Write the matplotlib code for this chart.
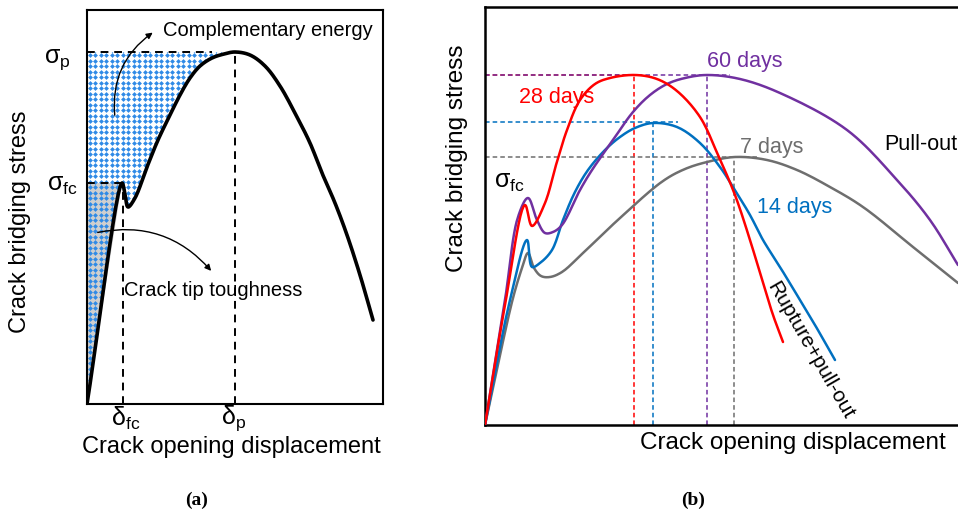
import numpy as np
import matplotlib.pyplot as plt
from matplotlib.patches import Polygon

plt.rcParams['font.family'] = ['Liberation Sans', 'DejaVu Sans']
plt.rcParams['mathtext.fontset'] = 'custom'
plt.rcParams['mathtext.rm'] = 'Liberation Sans'

# ---- panel (a): schematic bridging curve (units) ----
a_x = [0, 35, 38, 41, 48, 60, 71, 83, 93, 103, 113, 125, 137, 148, 163, 178,
       193, 210, 223, 235, 248, 260, 273, 286]
a_y = [0, 221, 210, 197, 206, 237, 264, 289, 309, 326, 338, 346, 350, 352, 349,
       338, 318, 287, 261, 231, 201, 169, 129, 84]
a_peak = 13          # index of sigma_p in the arrays
sig_fc, d_fc = 221, 36
sig_p, d_p = 352, 148

# ---- panel (b): curing ages ----
red_x = [0, 20, 40, 47, 60, 71, 82, 95, 110, 125, 150, 172, 192, 215, 233, 250,
         265, 278, 288, 298]
red_y = [0, 120, 220, 199, 222, 260, 295, 325, 341, 347, 350, 346, 334, 308, 270,
         230, 185, 142, 110, 83]
pur_x = [0, 20, 33, 43, 52, 60, 68, 77, 95, 107, 128, 148, 165, 182, 200, 222,
         255, 295, 362, 412, 445, 473]
pur_y = [0, 125, 208, 227, 205, 192, 193, 200, 235, 255, 285, 313, 330, 341, 347,
         350, 346, 332, 295, 245, 205, 160]
blu_x = [0, 25, 42, 47, 55, 67, 78, 90, 103, 120, 135, 150, 168, 192, 215, 235,
         248, 265, 278, 295, 315, 330, 350]
blu_y = [0, 125, 185, 158, 162, 175, 205, 233, 255, 275, 288, 297, 302, 298, 282,
         258, 238, 210, 185, 158, 125, 100, 65]
gry_x = [0, 15, 28, 37, 43, 49, 56, 65, 77, 98, 135, 178, 200, 222, 250, 282,
         312, 345, 378, 428, 473]
gry_y = [0, 70, 127, 157, 172, 157, 149, 148, 153, 172, 207, 244, 256, 263, 268,
         265, 255, 238, 218, 178, 142]

# peaks (x, y, end of horizontal guide)
peaks = {
    'red': (149, 350, 150),
    'purple': (222, 350, 245),
    'blue': (168, 303, 193),
    'gray': (249, 268, 275),
}
colors = {'red': '#ff0000', 'purple': '#7030a0', 'blue': '#0070c0', 'gray': '#6e6e6e'}

W, H = 958, 515
fig = plt.figure(figsize=(W / 100, H / 100), dpi=100)


def px(x, y):
    return x / W, 1 - y / H


def smooth(xs, ys, n=12):
    # centripetal catmull-rom through the read points, only for drawing
    p = np.column_stack([xs, ys]).astype(float)
    p = np.vstack([2 * p[0] - p[1], p, 2 * p[-1] - p[-2]])
    out = []
    for i in range(1, len(p) - 2):
        p0, p1, p2, p3 = p[i - 1], p[i], p[i + 1], p[i + 2]
        t0 = 0.0
        t1 = t0 + np.linalg.norm(p1 - p0) ** 0.5
        t2 = t1 + np.linalg.norm(p2 - p1) ** 0.5
        t3 = t2 + np.linalg.norm(p3 - p2) ** 0.5
        t = np.linspace(t1, t2, n, endpoint=False)[:, None]
        a1 = (t1 - t) / (t1 - t0) * p0 + (t - t0) / (t1 - t0) * p1
        a2 = (t2 - t) / (t2 - t1) * p1 + (t - t1) / (t2 - t1) * p2
        a3 = (t3 - t) / (t3 - t2) * p2 + (t - t2) / (t3 - t2) * p3
        b1 = (t2 - t) / (t2 - t0) * a1 + (t - t0) / (t2 - t0) * a2
        b2 = (t3 - t) / (t3 - t1) * a2 + (t - t1) / (t3 - t1) * a3
        out.append((t2 - t) / (t2 - t1) * b1 + (t - t1) / (t2 - t1) * b2)
    out.append(p[-2][None, :])
    c = np.vstack(out)
    return c[:, 0], c[:, 1]


# ================= (a) =================
axa = fig.add_axes([87 / W, (H - 404) / H, (383 - 87) / W, (404 - 10) / H])
axa.set_xlim(0, 296)
axa.set_ylim(0, 394)
axa.set_xticks([])
axa.set_yticks([])
for s in axa.spines.values():
    s.set_linewidth(1.5)

sx, sy = smooth(a_x, a_y)
ipk = np.argmax(sy)

tri_x = [0, a_x[1], 0]
tri_y = [0, a_y[1], a_y[1]]
axa.fill(tri_x, tri_y, facecolor='#cfcfcf', edgecolor='none', zorder=1)

region = Polygon(np.column_stack([np.r_[sx[:ipk + 1], 0], np.r_[sy[:ipk + 1], sig_p]]),
                 closed=True, facecolor='none', edgecolor='none')
axa.add_patch(region)
gx, gy = np.meshgrid(np.arange(2.5, 140, 5.5), np.arange(2.5, 360, 5.5))
dots = axa.scatter(gx.ravel(), gy.ravel(), s=6, marker='D', color='#2f8ae6',
                   linewidths=0, zorder=2)
dots.set_clip_path(region)

axa.plot(sx, sy, color='black', lw=2.6, solid_capstyle='round',
         solid_joinstyle='round', zorder=4)
dash = dict(color='black', lw=1.4, ls=(0, (4, 3)), zorder=3)
axa.plot([0, 125], [sig_p, sig_p], **dash)
axa.plot([d_p, d_p], [0, sig_p], **dash)
axa.plot([0, d_fc], [sig_fc, sig_fc], **dash)
axa.plot([d_fc, d_fc], [0, sig_fc], **dash)

axa.text(181, 374, 'Complementary energy', fontsize=14.5, ha='center', va='center')
axa.annotate('', xy=(68, 373), xytext=(28, 286),
             arrowprops=dict(arrowstyle='-|>', color='black', lw=1.0,
                             mutation_scale=9, connectionstyle='arc3,rad=-0.3'),
             zorder=5)
axa.text(126, 113, 'Crack tip toughness', fontsize=14.5, ha='center', va='center')
axa.annotate('', xy=(126, 131), xytext=(8, 171),
             arrowprops=dict(arrowstyle='-|>', color='black', lw=1.0,
                             mutation_scale=9, connectionstyle='arc3,rad=-0.3'),
             zorder=5)

axa.text(-16, 344, r'$\mathregular{\sigma_p}$', fontsize=18, ha='right', va='center',
         clip_on=False)
axa.text(-9, 219, r'$\mathregular{\sigma_{fc}}$', fontsize=18, ha='right', va='center',
         clip_on=False)
axa.text(d_fc + 3, -14, r'$\mathregular{\delta_{fc}}$', fontsize=18, ha='center',
         va='center', clip_on=False)
axa.text(d_p - 1, -14, r'$\mathregular{\delta_p}$', fontsize=18, ha='center',
         va='center', clip_on=False)

fig.text(*px(231, 447), 'Crack opening displacement', fontsize=17,
         ha='center', va='center')
fig.text(*px(20, 222), 'Crack bridging stress', fontsize=17, rotation=90,
         ha='center', va='center')
fig.text(*px(197, 500), '(a)', fontsize=14, fontweight='bold',
         family='Liberation Serif', ha='center', va='center')

# ================= (b) =================
axb = fig.add_axes([485 / W, (H - 425) / H, (W - 485) / W, (425 - 7) / H])
axb.set_xlim(0, 473)
axb.set_ylim(0, 418)
axb.set_xticks([])
axb.set_yticks([])
axb.spines['right'].set_visible(False)
for s in ['left', 'top', 'bottom']:
    axb.spines[s].set_linewidth(1.8)

for key in ['red', 'blue', 'purple', 'gray']:
    xp, yp, xe = peaks[key]
    axb.plot([0, xe], [yp, yp], color=colors[key], lw=1.1, ls=(0, (3, 2)), zorder=2)
    axb.plot([xp, xp], [0, yp], color=colors[key], lw=1.1, ls=(0, (3, 2)), zorder=2)

for xs, ys, key in [(gry_x, gry_y, 'gray'), (blu_x, blu_y, 'blue'),
                    (pur_x, pur_y, 'purple'), (red_x, red_y, 'red')]:
    cx, cy = smooth(xs, ys)
    axb.plot(cx, cy, color=colors[key], lw=1.8, solid_joinstyle='round',
             solid_capstyle='round', zorder=3)

axb.text(260, 363, '60 days', color=colors['purple'], fontsize=15.5, ha='center', va='center')
axb.text(72, 328, '28 days', color=colors['red'], fontsize=15.5, ha='center', va='center')
axb.text(287, 277, '7 days', color=colors['gray'], fontsize=15.5, ha='center', va='center')
axb.text(310, 217, '14 days', color=colors['blue'], fontsize=15.5, ha='center', va='center')
axb.text(436, 280, 'Pull-out', color='black', fontsize=15.5, ha='center', va='center')
axb.text(24, 243, r'$\mathregular{\sigma_{fc}}$', fontsize=18, ha='center', va='center')
axb.text(325, 75, 'Rupture+pull-out', fontsize=15, rotation=-60,
         ha='center', va='center', rotation_mode='anchor')

fig.text(*px(793, 443), 'Crack opening displacement', fontsize=17.5,
         ha='center', va='center')
fig.text(*px(457, 158), 'Crack bridging stress', fontsize=17.5, rotation=90,
         ha='center', va='center')
fig.text(*px(693, 500), '(b)', fontsize=14, fontweight='bold',
         family='Liberation Serif', ha='center', va='center')

fig.savefig('out.png', dpi=100)
